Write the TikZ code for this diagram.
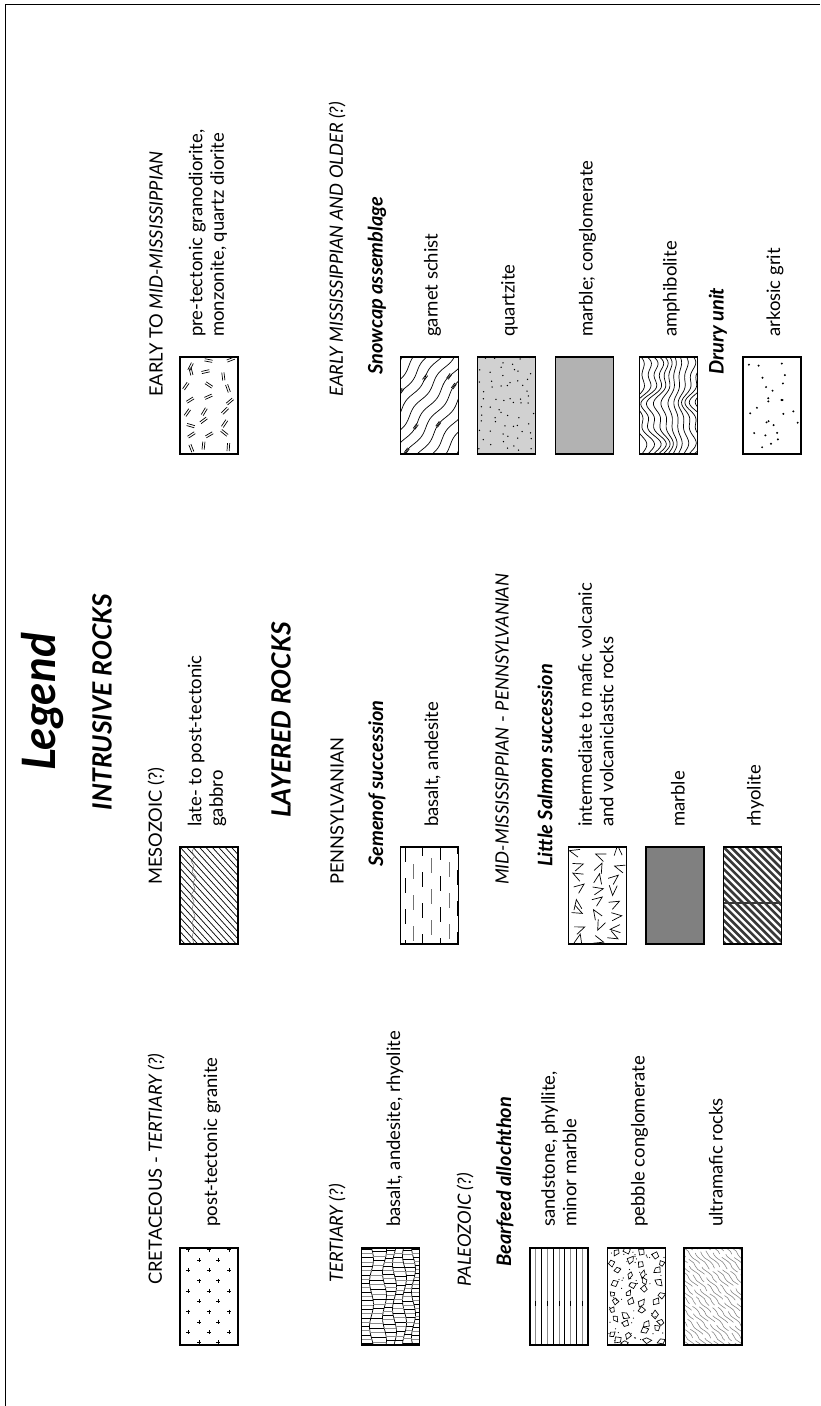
\documentclass[tikz,border=0pt]{standalone}
\usepackage{fontspec}
\setmainfont{Lato}
\begin{document}
\begin{tikzpicture}[x=1pt,y=-1pt,
  hdr/.style={rotate=90,anchor=west,inner sep=0pt,font=\fontsize{18.3}{21}\selectfont},
  unitl/.style={rotate=90,anchor=west,inner sep=0pt,font=\fontsize{20}{23}\selectfont\bfseries\itshape},
  desc/.style={rotate=90,anchor=west,inner sep=0pt,align=left,font=\fontsize{18.5}{21.5}\selectfont},
  bigt/.style={rotate=90,inner sep=0pt,font=\fontsize{26.5}{30}\selectfont\bfseries\itshape},
  legbox/.style={minimum width=58pt,minimum height=97pt,inner sep=0pt,outer sep=0pt},
  boxline/.style={line width=1.3pt},
  patline/.style={line width=0.7pt}
]
\useasboundingbox (0,0) rectangle (820,1406);
\draw[line width=1pt] (5,1406) -- (5,4) -- (820,4);

\newcommand\lbox[3]{%
  \node[legbox] (#1) at (#2) {};
  \begin{scope}
    \clip (#1.north west) rectangle (#1.south east);
    \begin{scope}[shift={(#1.north west)}]
      #3
    \end{scope}
  \end{scope}
  \draw[boxline] (#1.north west) rectangle (#1.south east);
}

% ---------- patterns ----------
\newcommand\patGD{%
  \pgfmathsetseed{11}%
  \foreach \c in {0,1,2}{\foreach \r in {0,...,7}{
    \pgfmathsetmacro\px{9+\c*19+(rnd-0.5)*10}
    \pgfmathsetmacro\py{6+\r*12+(rnd-0.5)*8}
    \pgfmathsetmacro\an{rnd*180}
    \begin{scope}[shift={(\px,\py)},rotate=\an]
      \draw[patline] (-4,-1.1)--(4,-1.1) (-4,1.1)--(4,1.1);
    \end{scope}
  }}}
\newcommand\patGS{%
  \foreach \k in {-6,...,6}{
    \draw[patline] plot[smooth,domain=-70:70,samples=29,variable=\s]
      ({29+(\k)*8.1+(\s)*0.59+1.8*sin((\s)*9)*0.81},{48.5+(\k)*5.9-(\s)*0.81+1.8*sin((\s)*9)*0.59});
  }
  \foreach \k/\s in {-2/20,0/-25,1/30,2/-10,-1/-40,3/15,0/35,-3/-5,1/-50}{
    \begin{scope}[shift={({29+(\k)*8.1+(\s)*0.59+1.8*sin((\s)*9)*0.81},{48.5+(\k)*5.9-(\s)*0.81+1.8*sin((\s)*9)*0.59})},rotate=-36]
      \draw[patline] (-1,-3)--(-1,3) (1,-3)--(1,3);
    \end{scope}
  }}
\newcommand\patQZ{%
  \fill[black!18] (0,0) rectangle (58,97);
  \pgfmathsetseed{7}%
  \foreach \c in {0,...,5}{\foreach \r in {0,...,10}{
    \pgfmathsetmacro\px{5+\c*9.6+(rnd-0.5)*8}
    \pgfmathsetmacro\py{4+\r*9+(rnd-0.5)*8}
    \fill (\px,\py) circle (0.75pt);
  }}}
\newcommand\patMC{\fill[black!30] (0,0) rectangle (58,97);}
\newcommand\patMB{\fill[black!50] (0,0) rectangle (58,97);}
\newcommand\patAM{%
  \foreach \k in {-3,...,12}{
    \draw[patline] plot[smooth,domain=-2:99,samples=50,variable=\t]
      ({(\k)*5.5+(5+2.2*sin((\k)*40))*(sin((\t)*5+(\k)*4)+0.5*sin((\t)*13+40))},{\t});
  }}
\newcommand\patAK{%
  \pgfmathsetseed{5}%
  \foreach \i in {1,...,26}{
    \pgfmathsetmacro\px{3+rnd*52}
    \pgfmathsetmacro\py{3+rnd*91}
    \fill (\px,\py) circle (1.1pt);
  }}
\newcommand\patGB{%
  \foreach \k in {-15,...,9}{\draw[patline] ({(\k)*6.4},0) -- ++(100,110);}
  \draw[line width=0.5pt,black!60] (14,0)--(12,5)--(15,9)--(11,14)--(14,19)--(12,25)--(16,30)--(13,36)--(15,42)--(11,48)--(14,55)--(12,62)--(15,69)--(12,76)--(14,83)--(12,90)--(14,97);
}
\newcommand\patSM{%
  \foreach \x/\ph/\col in {4.7/0/black,13.3/14/black!55,22.3/6/black,31.3/20/black!55,40/2/black,49/16/black!55,57/8/black}{
    \draw[\col,line width=0.8pt,dash pattern=on 15pt off 16pt,dash phase=\ph pt] (\x,0) -- (\x,97);
  }}
\newcommand\patLS{%
  \pgfmathsetseed{3}%
  \foreach \c in {0,...,2}{\foreach \r in {0,...,7}{
    \pgfmathsetmacro\px{9+\c*19+(rnd-0.5)*8}
    \pgfmathsetmacro\py{6+\r*12.2+(rnd-0.5)*6}
    \pgfmathsetmacro\an{rnd*360}
    \begin{scope}[shift={(\px,\py)},rotate=\an]
      \draw[patline] (5,4)--(-5,0)--(5,-4);
    \end{scope}
  }}}
\newcommand\patRH{%
  \foreach \k in {-14,...,8}{\draw[black!78,line width=2.6pt] ({(\k)*7.3},0) -- ++(100,100);}
  \draw[black!78,line width=1.2pt] (0,56)--(58,56);
}
\newcommand\patGR{%
  \foreach \py in {1.7,22.3,42.9,63.5,84.1}{\foreach \px in {8.3,28.8,49.3}{
    \draw[line width=0.6pt] (\px-2,\py)--(\px+2,\py) (\px,\py-2)--(\px,\py+2);}}
  \foreach \py in {12,32.6,53.2,73.8,94.4}{\foreach \px in {19.3,38.3}{
    \draw[line width=0.6pt] (\px-2,\py)--(\px+2,\py) (\px,\py-2)--(\px,\py+2);}}
}
\newcommand\patTE{%
  \foreach \b/\p in {10/0,23/70,33/140,43/210,52/280}{
    \draw[patline] plot[smooth,domain=0:97,samples=25,variable=\t] ({\b+2*sin((\t)*8+\p)},{\t});
  }
  \foreach \lb/\la/\lp/\rb/\ra/\rp/\st/\of in {0/0/0/10/2/0/4.3/1,10/2/0/23/2/70/4.8/3,23/2/70/33/2/140/4.1/2,33/2/140/43/2/210/4.6/0.5,43/2/210/52/2/280/4.2/2.5,52/2/280/58/0/0/3.9/1.5}{
    \foreach \i in {0,...,24}{
      \pgfmathsetmacro\tt{\of+\i*\st}
      \pgfmathsetmacro\xl{\lb+\la*sin((\tt)*8+\lp)}
      \pgfmathsetmacro\xr{\rb+\ra*sin((\tt)*8+\rp)}
      \def\rcol{black}\ifodd\i\def\rcol{black!45}\fi
      \draw[\rcol,line width=0.6pt] (\xl,\tt) -- (\xr,\tt);
    }
  }}
\newcommand\patSS{%
  \foreach \i in {1,...,9}{
    \pgfmathsetmacro\px{\i*5.8}
    \def\rcol{black}\ifodd\i\def\rcol{black!45}\fi
    \draw[\rcol,line width=0.8pt] (\px,0) -- (\px,97);
  }
  \foreach \i in {1,3,5,7,9}{\draw[black,line width=0.9pt] ({\i*5.8},53) -- ({\i*5.8},58);}
}
\newcommand\patPC{%
  \pgfmathsetseed{17}%
  \foreach \c in {0,...,3}{\foreach \r in {0,...,9}{
    \pgfmathsetmacro\px{7+\c*14.5+(rnd-0.5)*8}
    \pgfmathsetmacro\py{5+\r*9.8+(rnd-0.5)*7}
    \pgfmathsetmacro\an{rnd*360}
    \pgfmathsetmacro\qa{2.5+rnd*2.5}
    \pgfmathsetmacro\qb{2+rnd*2.2}
    \pgfmathsetmacro\qc{2.5+rnd*2.5}
    \pgfmathsetmacro\qd{2+rnd*2.2}
    \begin{scope}[shift={(\px,\py)},rotate=\an]
      \draw[line width=0.65pt] (0:\qa) -- (80:\qb) -- (175:\qc) -- (265:\qd) -- cycle;
    \end{scope}
  }}
  \foreach \i in {1,...,55}{
    \pgfmathsetmacro\px{1+rnd*56}
    \pgfmathsetmacro\py{1+rnd*95}
    \fill (\px,\py) circle (0.6pt);
  }}
\newcommand\patUM{%
  \pgfmathsetseed{23}%
  \foreach \k in {-15,...,10}{
    \pgfmathsetmacro\ds{-rnd*25}
    \draw[black!50,line width=0.55pt,dash pattern=on 22pt off 4pt] plot[smooth,domain=\ds:140,samples=35,variable=\s]
      ({(\k)*6+(\s)*0.7+1.2*sin((\s)*22)},{(\s)*0.72});
  }}

% ---------- titles ----------
\node[rotate=90,inner sep=0pt,font=\fontsize{46}{50}\selectfont\bfseries\itshape] (title) at (43,702) {Legend};
\node[bigt] (intr) at (102,702) {INTRUSIVE ROCKS};
\node[bigt] (lay) at (281,720) {LAYERED ROCKS};

% ---------- column A ----------
\node[hdr] (hcre) at (156,1285) {CRETACEOUS - \textit{TERTIARY (?)}};
\node[desc] (dgr) at (212,1227) {post-tectonic granite};
\lbox{bgr}{209,1296.5}{\patGR}

\node[hdr] (hmes) at (156,885) {MESOZOIC (?)};
\node[desc] (dgb) at (207,827) {late- to post-tectonic\\gabbro};
\lbox{bgb}{209,895.5}{\patGB}

\node[hdr] (hemm) at (156,397) {EARLY TO \textit{MID-MISSISSIPPIAN}};
\node[desc] (dgd) at (208,337) {pre-tectonic granodiorite,\\monzonite, quartz diorite};
\lbox{bgd}{209,405.5}{\patGD}

% ---------- bottom group ----------
\node[hdr] (hter) at (337,1283) {\textit{TERTIARY (?)}};
\node[desc] (dte) at (395,1227) {basalt, andesite, rhyolite};
\lbox{bte}{390.5,1296.5}{\patTE}

\node[hdr] (hpal) at (465,1287) {\textit{PALEOZOIC (?)}};
\node[unitl] (ubf) at (505,1267) {Bearfeed allochthon};
\node[desc] (dss) at (559,1227) {sandstone, phyllite,\\minor marble};
\lbox{bss}{559,1296.5}{\patSS}
\node[desc] (dpc) at (639.5,1227) {pebble conglomerate};
\lbox{bpc}{636.5,1296.5}{\patPC}
\node[desc] (dum) at (716,1227) {ultramafic rocks};
\lbox{bum}{713,1296.5}{\patUM}

% ---------- middle group ----------
\node[hdr] (hpen) at (337,885) {PENNSYLVANIAN};
\node[unitl] (usm) at (377,867) {Semenof succession};
\node[desc] (dsm) at (432.5,827) {basalt, andesite};
\lbox{bsm}{429.5,895.5}{\patSM}

\node[hdr] (hmmp) at (502,885) {\textit{MID-MISSISSIPPIAN} - \textit{PENNSYLVANIAN}};
\node[unitl] (uls) at (545,867) {Little Salmon succession};
\node[desc] (dls) at (596,827) {intermediate to mafic volcanic\\and volcaniclastic rocks};
\lbox{bls}{597.5,895.5}{\patLS}
\node[desc] (dmb) at (678,827) {marble};
\lbox{bmb}{675,895.5}{\patMB}
\node[desc] (drh) at (755.5,827) {rhyolite};
\lbox{brh}{752.5,895.5}{\patRH}

% ---------- top group ----------
\node[hdr] (hemo) at (337,397) {\textit{EARLY MISSISSIPPIAN AND OLDER (?)}};
\node[unitl] (usc) at (377,375) {Snowcap assemblage};
\node[desc] (dgs) at (432.5,337) {garnet schist};
\lbox{bgs}{429.5,405.5}{\patGS}
\node[desc] (dqz) at (509.5,337) {quartzite};
\lbox{bqz}{506.5,405.5}{\patQZ}
\node[desc] (dmc) at (587.5,337) {marble; conglomerate};
\lbox{bmc}{584.5,405.5}{\patMC}
\node[desc] (dam) at (671.5,337) {amphibolite};
\lbox{bam}{668.5,405.5}{\patAM}
\node[unitl] (udr) at (718,375) {Drury unit};
\node[desc] (dak) at (775,337) {arkosic grit};
\lbox{bak}{772,405.5}{\patAK}
\end{tikzpicture}
\end{document}
